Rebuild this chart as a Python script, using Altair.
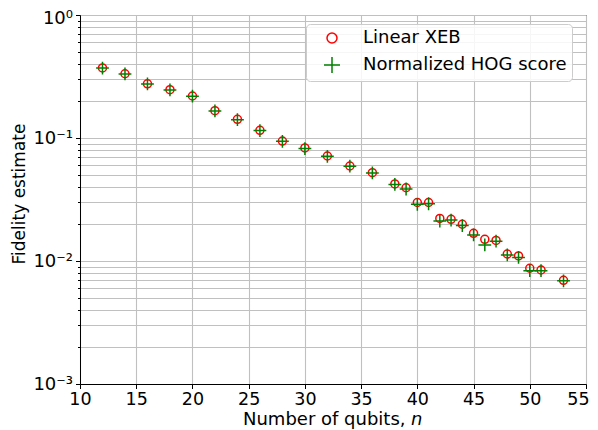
import altair as alt
import pandas as pd

# ---- data ----
qubits = [12, 14, 16, 18, 20, 22, 24, 26, 28, 30, 32, 34, 36, 38, 39, 40, 41,
          42, 43, 44, 45, 46, 47, 48, 49, 50, 51, 53]
linear_xeb = [0.371, 0.333, 0.276, 0.247, 0.2195, 0.1667, 0.142, 0.1155, 0.0945,
              0.083, 0.0714, 0.0592, 0.0522, 0.0423, 0.0394, 0.0299, 0.0299,
              0.0222, 0.0218, 0.0199, 0.0168, 0.0150, 0.0147, 0.0114, 0.0110,
              0.00873, 0.00845, 0.00697]
hog_score = [0.370, 0.332, 0.275, 0.246, 0.219, 0.166, 0.141, 0.115, 0.094,
             0.082, 0.071, 0.059, 0.052, 0.0419, 0.0385, 0.0289, 0.0292,
             0.0211, 0.0215, 0.0194, 0.0163, 0.0135, 0.0145, 0.0112, 0.0107,
             0.00834, 0.00834, 0.0069]
series_names = ["Linear XEB", "Normalized HOG score"]
series_colors = ["#ff0000", "#008000"]
x_ticks = [10, 15, 20, 25, 30, 35, 40, 45, 50, 55]
y_major = [0.001, 0.01, 0.1, 1]
y_major_labels = ["10\u207b\u00b3", "10\u207b\u00b2", "10\u207b\u00b9", "10\u2070"]
x_title = "Number of qubits,"
x_title_var = "n"
y_title = "Fidelity estimate"

rows = [{"n": n, "value": v, "series": series_names[0]} for n, v in zip(qubits, linear_xeb)]
rows += [{"n": n, "value": v, "series": series_names[1]} for n, v in zip(qubits, hog_score)]
df = pd.DataFrame(rows)

y_values = sorted(set([round(m * 10.0 ** e, 6) for e in (-3, -2, -1) for m in range(1, 10)] + [1.0]))

label_expr = "''"
for v, lab in zip(y_major, y_major_labels):
    label_expr = f"abs(datum.value - {v}) < {v * 1e-6} ? '{lab}' : " + label_expr

is_major = "abs(log(datum.value)/LN10 - round(log(datum.value)/LN10)) < 1e-6"

W, H = 506, 369
FONT = "DejaVu Sans"
plus_path = "M-1.6,0L1.6,0M0,-1.6L0,1.6"

legend = alt.Legend(
    title=None, orient="none", legendX=226, legendY=9, padding=5,
    fillColor="rgba(255,255,255,0.85)", strokeColor="#cccccc", cornerRadius=4,
    labelFont=FONT, labelFontSize=18, labelColor="black", labelLimit=400, rowPadding=7,
    symbolOffset=12, labelOffset=22, symbolStrokeWidth=1.5,
)

points = alt.Chart(df).mark_point(size=64, strokeWidth=1.5, opacity=1, filled=False).encode(
    x=alt.X("n:Q", scale=alt.Scale(domain=[10, 55], nice=False, zero=False),
            axis=alt.Axis(values=x_ticks, title="", grid=True, tickSize=4.5,
                          labelPadding=2, labelFlush=False,
                          labelOffset={"condition": {"test": f"datum.value >= {x_ticks[-1]}", "value": -8}, "value": 0})),
    y=alt.Y("value:Q", scale=alt.Scale(type="log", domain=[0.001, 1], nice=False),
            axis=alt.Axis(values=y_values, title="", grid=True, labelExpr=label_expr,
                          labelFontSize=18,
                          labelOffset={"condition": {"test": "datum.value >= 0.999", "value": 3.5}, "value": 0},
                          tickSize={"condition": {"test": is_major, "value": 4.5}, "value": 2.5},
                          labelPadding=3, labelFlush=False)),
    color=alt.Color("series:N", scale=alt.Scale(domain=series_names, range=series_colors), legend=legend),
    shape=alt.Shape("series:N", scale=alt.Scale(domain=series_names, range=["circle", plus_path]), legend=legend),
)

one = alt.Data(values=[{"k": 1}])
xt1 = alt.Chart(one).mark_text(font=FONT, fontSize=18, align="left", baseline="alphabetic", color="black").encode(
    x=alt.value(163), y=alt.value(H + 41), text=alt.value(x_title))
xt2 = alt.Chart(one).mark_text(font=FONT, fontSize=18, fontStyle="italic", align="left", baseline="alphabetic", color="black").encode(
    x=alt.value(331), y=alt.value(H + 41), text=alt.value(x_title_var))
yt = alt.Chart(one).mark_text(font=FONT, fontSize=17, angle=270, align="center", baseline="alphabetic", color="black").encode(
    x=alt.value(-55), y=alt.value(179), text=alt.value(y_title))

chart = alt.layer(points, xt1, xt2, yt).properties(
    width=W, height=H,
    autosize=alt.AutoSizeParams(type="none"),
    padding={"left": 72, "top": 7, "right": 4, "bottom": 46},
).configure_view(stroke="black", strokeWidth=1).configure_axis(
    labelFont=FONT, labelFontSize=17.5, labelColor="black",
    domainColor="black", tickColor="black", gridColor="#c0c0c0", gridWidth=1.1,
)

chart.save("out.html", embed_options={"renderer": "svg", "actions": False})
